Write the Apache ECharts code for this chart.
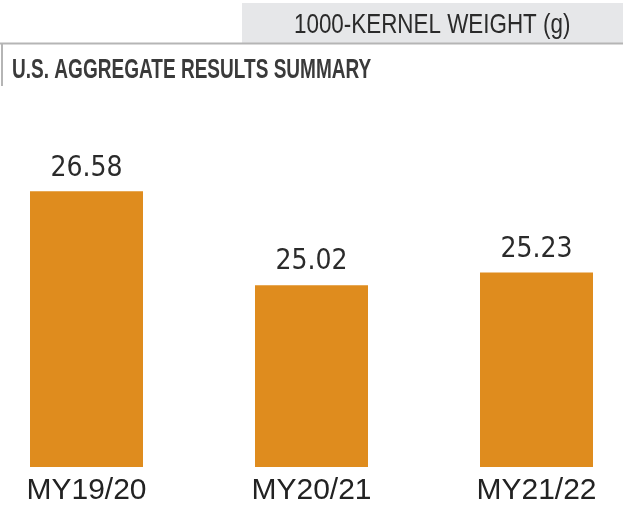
<!DOCTYPE html>
<html>
<head>
<meta charset="utf-8">
<script src="https://cdn.jsdelivr.net/npm/echarts@6/dist/echarts.min.js"></script>
<style>
  html, body { margin: 0; padding: 0; background: #fff; }
  #main { width: 623px; height: 506px; }
</style>
</head>
<body>
<div id="main"></div>
<script>
var seasons = ['MY19/20', 'MY20/21', 'MY21/22'];
var kernelWeight = [26.58, 25.02, 25.23];

var myChart = echarts.init(document.getElementById('main'));
var option = {
	animation: false,
	color: ['#df8c1e'],
	grid: {
		left: -26,
		width: 675,
		top: 166,
		height: 301,
		outerBoundsMode: 'none',
		containLabel: false
	},
	xAxis: {
		type: 'category',
		data: seasons,
		axisLine: { show: false },
		axisTick: { show: false },
		axisLabel: {
			interval: 0,
			margin: 9,
			fontFamily: 'Liberation Sans',
			fontSize: 30,
			color: '#222'
		}
	},
	yAxis: {
		type: 'value',
		min: 22,
		max: 27,
		show: false
	},
	series: [{
		type: 'bar',
		data: kernelWeight,
		barWidth: 113,
		label: {
			show: true,
			position: 'top',
			distance: 9,
			fontFamily: "'DejaVu Sans Condensed', Roboto",
			fontSize: 28,
			color: '#2a2a2a',
			formatter: function (p) {
				return p.value.toFixed(2);
			}
		}
	}],
	graphic: [
		// grey header box
		{
			type: 'rect',
			shape: { x: 242, y: 3, width: 381, height: 40 },
			style: { fill: '#e6e7e9' }
		},
		{
			type: 'text',
			x: 294,
			y: 39,
			scaleX: 0.8,
			style: {
				text: '1000-KERNEL WEIGHT (g)',
				fontFamily: 'Liberation Sans',
				fontSize: 28,
				fill: '#2a2a2a',
				verticalAlign: 'bottom'
			}
		},
		// border lines
		{
			type: 'line',
			shape: { x1: 0, y1: 43.5, x2: 623, y2: 43.5 },
			style: { stroke: '#b5b5b5', lineWidth: 2 }
		},
		{
			type: 'line',
			shape: { x1: 2, y1: 43, x2: 2, y2: 86 },
			style: { stroke: '#b5b5b5', lineWidth: 2 }
		},
		{
			type: 'text',
			x: 12,
			y: 84,
			scaleX: 0.68,
			style: {
				text: 'U.S. AGGREGATE RESULTS SUMMARY',
				fontFamily: 'Liberation Sans',
				fontWeight: 'bold',
				fontSize: 28,
				fill: '#3a3a3a',
				verticalAlign: 'bottom'
			}
		}
	]
};
myChart.setOption(option);
</script>
</body>
</html>
